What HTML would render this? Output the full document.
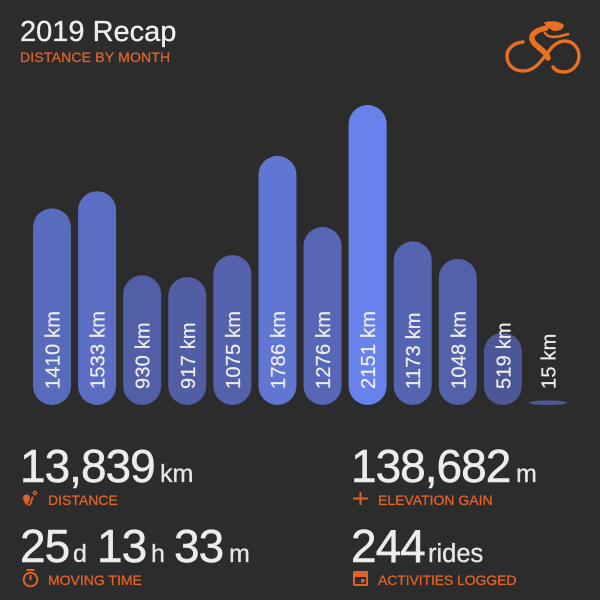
<!DOCTYPE html>
<html>
<head>
<meta charset="utf-8">
<style>
html,body{margin:0;padding:0;background:#2c2c2c;}
svg{display:block;}
text{font-family:"Liberation Sans",sans-serif;}
.big{font-size:46px;fill:#ececec;letter-spacing:-1px;stroke:#ececec;stroke-width:.5px;}
.unit{font-size:25px;fill:#e6e6e6;stroke:#e6e6e6;stroke-width:.35px;letter-spacing:0;}
.lab{font-size:14px;fill:#de6329;stroke:#de6329;stroke-width:.3px;}
</style>
</head>
<body>
<svg id="chart" width="600" height="600" viewBox="0 0 600 600" xmlns="http://www.w3.org/2000/svg">
  <rect width="600" height="600" fill="#2c2c2c"/>
  <text x="20" y="41" font-size="29" fill="#efefef" stroke="#efefef" stroke-width=".3">2019 Recap</text>
  <text x="20" y="62" font-size="14" letter-spacing=".18" fill="#de6329" stroke="#de6329" stroke-width=".3">DISTANCE BY MONTH</text>

  <g fill="none" stroke="#e8701f" stroke-linecap="round">
    <path d="M523 42 C512 43 507 50 507 56 C507 65 514 71 523 71 C531 71 537 66 541 61 L549 51 C553 45 559 41 565 41 C573 41 579 48 579 56 C579 65 572 72 564 72 C559 72 555 70 553 67" stroke-width="3.400"/>
    <path d="M548 58 C546 50 533 46 532 39 C531 33 538 30 546 28" stroke-width="5.500"/>
    <path d="M545 33 C548 38 556 38 568 34" stroke-width="2.600"/>
    <path d="M545 23 C550 21 558 22 563 25 C563 29 558 31 553 30 C550 28 547 26 545 23 Z" fill="#e8701f" stroke-width="1.500"/>
  </g>

  <g id="bars"></g>

  <text y="482"><tspan class="big" x="20">13,839</tspan><tspan class="unit" x="160">km</tspan></text>
  <g fill="none" stroke="#de6329" stroke-width="1.800">
    <path d="M26.500 504.500 C24 501 23.500 499.500 23.500 498 A3 3 0 0 1 29.500 498 C29.500 499.500 29 501 26.500 504.500 Z" fill="#de6329" stroke-width="1"/>
    <path d="M28 505 C32 505 31 499 33 497"/>
    <circle cx="35" cy="493" r="1.600" stroke-width="1.400"/>
  </g>
  <text class="lab" x="48" y="505">DISTANCE</text>

  <text y="482"><tspan class="big" x="351">138,682</tspan><tspan class="unit" x="516">m</tspan></text>
  <path d="M353 498.500 H368 M360.500 492 V505" stroke="#de6329" stroke-width="2" fill="none"/>
  <text class="lab" x="378" y="505">ELEVATION GAIN</text>

  <text y="562"><tspan class="big" x="20">25</tspan><tspan class="unit" x="73">d</tspan><tspan class="big" x="97">13</tspan><tspan class="unit" x="151">h</tspan><tspan class="big" x="174">33</tspan><tspan class="unit" x="229">m</tspan></text>
  <g fill="none" stroke="#de6329" stroke-width="2">
    <circle cx="30.500" cy="579.500" r="6.800"/>
    <path d="M26.500 570 H34.500 M30.500 575 V580"/>
  </g>
  <text class="lab" x="48" y="585">MOVING TIME</text>

  <text y="562"><tspan class="big" x="351">244</tspan><tspan class="unit" x="428" style="font-size:25.5px">rides</tspan></text>
  <g>
    <path d="M354.500 571 H366.500 A1.500 1.500 0 0 1 368 572.500 V584.500 A1.500 1.500 0 0 1 366.500 586 H354.500 A1.500 1.500 0 0 1 353 584.500 V572.500 A1.500 1.500 0 0 1 354.500 571 Z M355 577 V584 H366 V577 Z" fill="#de6329" fill-rule="evenodd"/>
    <rect x="361" y="579" width="3.500" height="3.500" fill="#de6329"/>
  </g>
  <text class="lab" x="378" y="585" letter-spacing="-.1">ACTIVITIES LOGGED</text>
</svg>
<script>
const months = ['jan','feb','mar','apr','may','jun','jul','aug','sep','oct','nov','dec'];
const distances = [1410,1533,930,917,1075,1786,1276,2151,1173,1048,519,15];

const NS = 'http://www.w3.org/2000/svg';
const barsGroup = document.getElementById('bars');
const maxValue = 2151;
const baseY = 405, plotHeight = 300, firstX = 33, pitch = 45.09, barW = 38;

function xScale(i){ return firstX + i * pitch; }
function heightScale(v){ return v / maxValue * plotHeight; }
function colorScale(v){
  const t = Math.pow(Math.min(1, Math.max(0, (v - 500) / (maxValue - 500))), 1.3);
  const r = Math.round(77 + t * (104 - 77));
  const g = Math.round(87 + t * (130 - 87));
  const b = Math.round(150 + t * (235 - 150));
  return 'rgb(' + r + ',' + g + ',' + b + ')';
}

distances.forEach(function(v, i){
  const h = Math.max(heightScale(v), 4.5);
  const x = xScale(i);
  const ry = Math.min(barW / 2, h / 2);
  const bar = document.createElementNS(NS, 'rect');
  
  
  bar.setAttribute('x', x);
  bar.setAttribute('y', baseY - h);
  bar.setAttribute('width', barW);
  bar.setAttribute('height', h);
  bar.setAttribute('rx', barW / 2);
  bar.setAttribute('ry', ry);
  bar.setAttribute('fill', colorScale(v));
  barsGroup.appendChild(bar);

  const cx = x + barW / 2 + 7.5;
  const label = document.createElementNS(NS, 'text');
  
  
  label.setAttribute('transform', 'translate(' + cx + ',389) rotate(-90)');
  label.setAttribute('font-size', '20');
  label.setAttribute('letter-spacing', '.2');
  label.setAttribute('fill', '#ececec');
  label.setAttribute('stroke', '#ececec');
  label.setAttribute('stroke-width', '.25');
  label.textContent = v + ' km';
  barsGroup.appendChild(label);
});
</script>
</body>
</html>
